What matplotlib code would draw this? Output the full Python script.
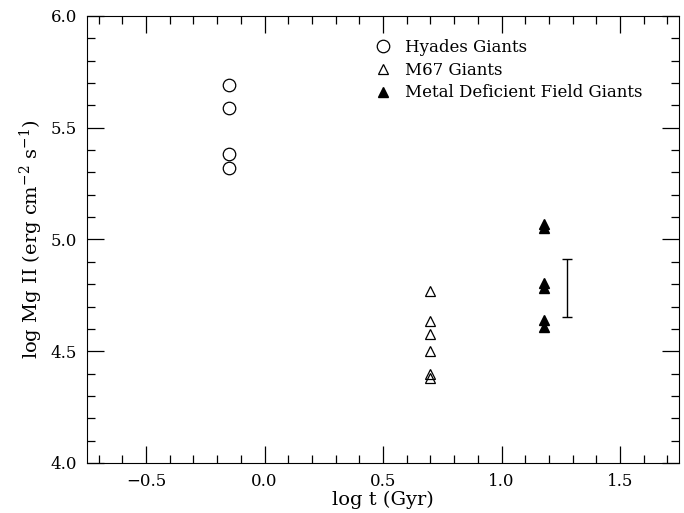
import numpy as np
import matplotlib
matplotlib.use('Agg')
import matplotlib.pyplot as plt
from matplotlib.ticker import MultipleLocator

plt.rcParams['font.family'] = 'DejaVu Serif'
plt.rcParams['mathtext.fontset'] = 'dejavuserif'

# Hyades giants
hy_t = [-0.15, -0.15, -0.15, -0.15]
hy_mg = [5.69, 5.59, 5.38, 5.32]

# M67 giants
m67_t = [0.70, 0.70, 0.70, 0.70, 0.70, 0.70]
m67_mg = [4.77, 4.635, 4.577, 4.502, 4.398, 4.380]

# metal deficient field giants
md_t = [1.18, 1.18, 1.18, 1.18, 1.18, 1.18]
md_mg = [5.07, 5.05, 4.807, 4.782, 4.640, 4.607]

# typical error
err_t = [1.275]
err_mg = [4.783]
err_size = [0.13]

fig = plt.figure(figsize=(6.84, 5.13), dpi=100)
ax = fig.add_axes([0.127, 0.0975, 0.866, 0.8715])

ax.plot(hy_t, hy_mg, 'o', mfc='none', mec='black', ms=9, mew=0.9, ls='none', label='Hyades Giants')
ax.plot(m67_t, m67_mg, '^', mfc='none', mec='black', ms=7, mew=0.9, ls='none', label='M67 Giants')
ax.plot(md_t, md_mg, '^', mfc='black', mec='black', ms=7, ls='none', label='Metal Deficient Field Giants')
ax.errorbar(err_t, err_mg, yerr=err_size, fmt='none', ecolor='black', elinewidth=1, capsize=3.6, capthick=1)

ax.set_xlim(-0.75, 1.75)
ax.set_ylim(4.0, 6.0)
ax.xaxis.set_major_locator(MultipleLocator(0.5))
ax.xaxis.set_minor_locator(MultipleLocator(0.1))
ax.yaxis.set_major_locator(MultipleLocator(0.5))
ax.yaxis.set_minor_locator(MultipleLocator(0.1))
ax.tick_params(which='both', direction='in', top=True, right=True, labelsize=12, width=0.9)
ax.tick_params(which='major', length=12, pad=7)
ax.tick_params(which='minor', length=6)
ax.xaxis.set_major_formatter(plt.FuncFormatter(lambda v, p: f'{v:.1f}'.replace('-', '\u2212')))
ax.yaxis.set_major_formatter(plt.FuncFormatter(lambda v, p: f'{v:.1f}'))

ax.set_xlabel('log t (Gyr)', fontsize=14, labelpad=1)
ax.set_ylabel(r'log Mg II (erg cm$^{-2}$ s$^{-1}$)', fontsize=14)

ax.legend(loc='upper left', bbox_to_anchor=(0.467, 0.975), frameon=False, fontsize=12,
          handlelength=1.0, handletextpad=0.8, labelspacing=0.35, borderpad=0.2)

plt.savefig('out.png', dpi=100)
